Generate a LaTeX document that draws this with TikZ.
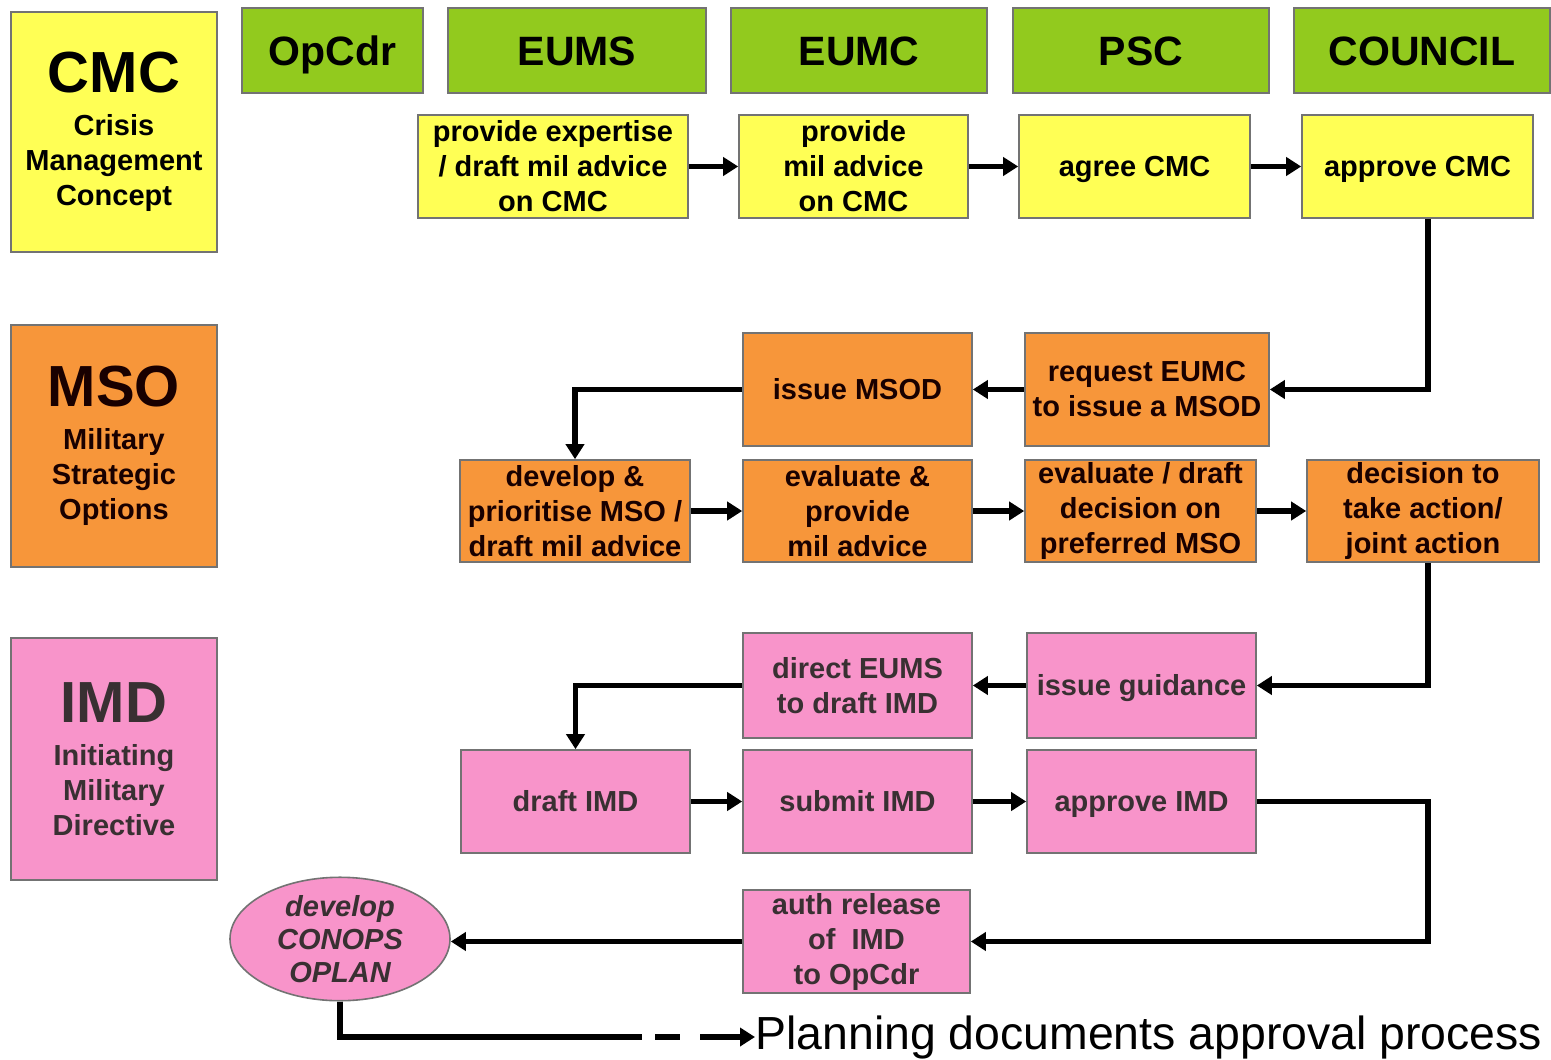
\documentclass[tikz,border=0pt]{standalone}
\usepackage{fontspec}
\setmainfont{Liberation Sans}
\usetikzlibrary{arrows.meta, shapes.geometric}

\definecolor{cmcyellow}{HTML}{FFFF55}
\definecolor{hdrgreen}{HTML}{92CA1E}
\definecolor{msoorange}{HTML}{F7963A}
\definecolor{imdpink}{HTML}{F894CA}
\newcommand{\flowfont}{\bfseries\fontsize{14.5}{17.5}\selectfont}

\begin{document}
\begin{tikzpicture}[x=0.5pt, y=-0.5pt,
    box/.style={draw=black!55, line width=0.8pt, inner sep=0pt, align=center, font=\flowfont},
    ybox/.style={box, fill=cmcyellow},
    obox/.style={box, fill=msoorange, text=black!90!red},
    pbox/.style={box, fill=imdpink, text=black!90!magenta},
    oneline/.style={text height=10.4pt, text depth=0pt},
    hdr/.style={box, fill=hdrgreen, minimum height=42.5pt, text height=14.7pt, text depth=0pt, font=\bfseries\fontsize{20.5}{24}\selectfont},
    conn/.style={line width=2.8pt, -{Triangle[length=7.5pt,width=9pt]}}]
    \useasboundingbox (0,0) rectangle (1551,1059);

    \node[ybox, minimum width=103pt, minimum height=120pt] (cmc) at (114,132)
        {{\fontsize{29}{32}\selectfont CMC}\\[4pt]Crisis\\Management\\Concept};
    \node[obox, minimum width=103pt, minimum height=121pt] (mso) at (114,446)
        {{\fontsize{29}{32}\selectfont MSO}\\[4pt]Military\\Strategic\\Options};
    \node[pbox, minimum width=103pt, minimum height=121pt] (imd) at (114,759)
        {{\fontsize{29}{32}\selectfont IMD}\\[4pt]Initiating\\Military\\Directive};

    \node[hdr, minimum width=90.5pt] (opcdr) at (332.5,50.5) {OpCdr};
    \node[hdr, minimum width=129pt] (eums) at (577,50.5) {EUMS};
    \node[hdr, minimum width=128pt] (eumc) at (859,50.5) {EUMC};
    \node[hdr, minimum width=128pt] (psc) at (1141,50.5) {PSC};
    \node[hdr, minimum width=128pt] (council) at (1422,50.5) {COUNCIL};

    \node[ybox, minimum width=135pt, minimum height=51.5pt] (expert) at (553,166.5) {provide expertise\\/ draft mil advice\\on CMC};
    \node[ybox, minimum width=114.5pt, minimum height=51.5pt] (advcmc) at (853.5,166.5) {provide\\mil advice\\on CMC};
    \node[ybox, oneline, minimum width=115.5pt, minimum height=51.5pt] (agree) at (1134.5,166.5) {agree CMC};
    \node[ybox, oneline, minimum width=115.5pt, minimum height=51.5pt] (apprcmc) at (1417.5,166.5) {approve CMC};

    \node[obox, oneline, minimum width=114.5pt, minimum height=56.5pt] (issuemsod) at (857.5,389.5) {issue MSOD};
    \node[obox, minimum width=122pt, minimum height=56.5pt] (request) at (1147,389.5) {request EUMC\\to issue a MSOD};
    \node[obox, minimum width=115pt, minimum height=51pt] (develop) at (575,511) {develop \&\\prioritise MSO /\\draft mil advice};
    \node[obox, minimum width=114.5pt, minimum height=51pt] (evalprov) at (857.5,511) {evaluate \&\\provide\\mil advice};
    \node[obox, minimum width=115.5pt, minimum height=51pt] (evaldraft) at (1140.5,511) {evaluate / draft\\decision on\\preferred MSO};
    \node[obox, minimum width=116pt, minimum height=51pt] (decision) at (1423,511) {decision to\\take action/\\joint action};

    \node[pbox, minimum width=114.5pt, minimum height=52.5pt] (direct) at (857.5,685.5) {direct EUMS\\to draft IMD};
    \node[pbox, oneline, minimum width=114.5pt, minimum height=52.5pt] (guidance) at (1141.5,685.5) {issue guidance};
    \node[pbox, oneline, minimum width=114.5pt, minimum height=51.5pt] (draftimd) at (575.5,801.5) {draft IMD};
    \node[pbox, oneline, minimum width=114.5pt, minimum height=51.5pt] (submit) at (857.5,801.5) {submit IMD};
    \node[pbox, oneline, minimum width=114.5pt, minimum height=51.5pt] (apprimd) at (1141.5,801.5) {approve IMD};
    \node[pbox, minimum width=113.5pt, minimum height=51.5pt] (auth) at (856.5,941.5) {auth release\\of\ \ IMD\\to OpCdr};
    \node[pbox, ellipse, minimum width=110pt, minimum height=56.5pt, font=\bfseries\itshape\fontsize{14.5}{16.5}\selectfont] (conops) at (340,939) {develop\\CONOPS\\OPLAN};

    \node[anchor=west, inner sep=0pt, font=\fontsize{23.2}{26}\selectfont] (note) at (755,1037) {Planning documents approval process};

    \coordinate (rt) at (1428,0);
    \coordinate (pend) at (642,1037);

    \draw[conn] (expert) -- (advcmc);
    \draw[conn] (advcmc) -- (agree);
    \draw[conn] (agree) -- (apprcmc);
    \draw[conn] (apprcmc.south -| rt) |- (request.east);
    \draw[conn] (request) -- (issuemsod);
    \draw[conn] (issuemsod.west) -| (develop.north);
    \draw[conn] (develop) -- (evalprov);
    \draw[conn] (evalprov) -- (evaldraft);
    \draw[conn] (evaldraft) -- (decision);
    \draw[conn] (decision.south -| rt) |- (guidance.east);
    \draw[conn] (guidance) -- (direct);
    \draw[conn] (direct.west) -| (draftimd.north);
    \draw[conn] (draftimd) -- (submit);
    \draw[conn] (submit) -- (apprimd);
    \draw[conn] (apprimd.east) -- (apprimd.east -| rt) |- (auth.east);
    \draw[conn] (auth.west) -- (auth.west -| conops.east);
    \draw[line width=2.8pt] (conops.south) |- (pend);
    \draw[conn, dash pattern=on 0pt off 6.5pt on 12.5pt off 10pt on 60pt] (pend) -- (note.west);
\end{tikzpicture}
\end{document}
